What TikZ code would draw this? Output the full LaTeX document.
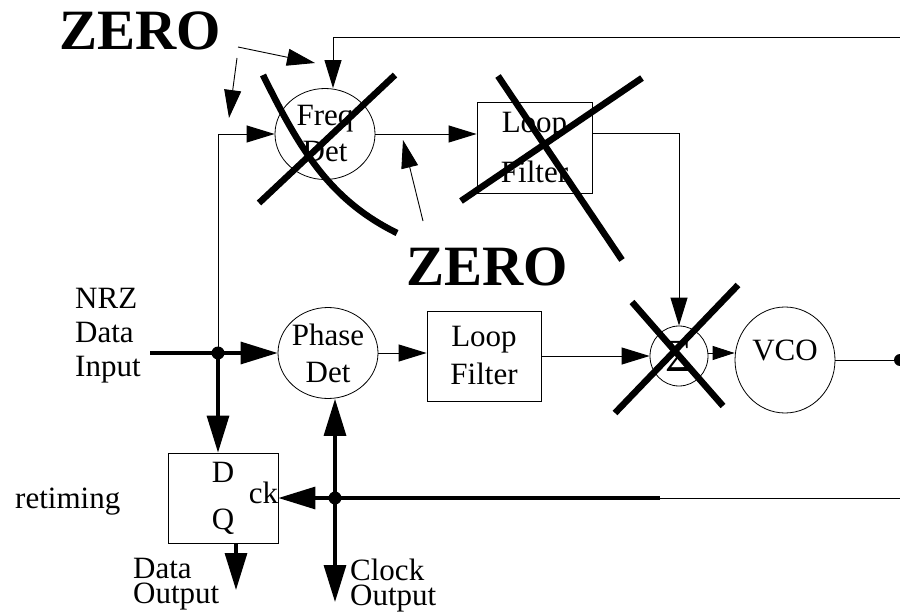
\documentclass[tikz,border=0pt]{standalone}
\usepackage{fontspec}
\setmainfont{Liberation Serif}
\usetikzlibrary{arrows.meta,shapes.geometric}

\begin{document}
\begin{tikzpicture}[
    x=1pt, y=-1pt,
    >={Triangle[length=28pt, width=17pt]},
    txt/.style={font=\fontsize{31}{37}\selectfont, inner sep=0pt, align=left},
    det/.style={ellipse, draw, line width=0.8pt, font=\fontsize{31}{37}\selectfont, align=center, inner xsep=-10pt, inner ysep=0pt, minimum width=100pt, minimum height=91pt},
    block/.style={rectangle, draw, line width=0.8pt, font=\fontsize{31}{38}\selectfont, align=center, inner sep=0pt},
    zero/.style={font=\fontsize{57}{60}\selectfont\bfseries, inner sep=0pt},
    sig/.style={->, line width=0.9pt},
    bus/.style={-{Triangle[length=37pt, width=22pt]}, line width=3.2pt},
    cross/.style={line width=6.5pt}
]
\useasboundingbox (0,0) rectangle (900,615);

% Upper path: frequency loop
\node[det] (freq) at (325,134) {Freq\\[-1pt]Det};
\node[block, minimum width=115pt, minimum height=91pt] (lf1) at (534.5,147.5) {Loop\\[12pt]Filter};

% Middle path: phase loop
\node[det] (phase) at (328,353) {Phase\\Det};
\node[block, minimum width=114pt, minimum height=90pt] (lf2) at (484,356) {Loop\\Filter};
\node[ellipse, draw, line width=0.8pt, minimum width=58pt, minimum height=60pt, inner sep=0pt, font=\fontsize{46}{46}\selectfont] (sum) at (679,356) {Σ};
\node[ellipse, draw, line width=0.8pt, minimum width=100pt, minimum height=106pt, inner sep=0pt, font=\fontsize{31}{37}\selectfont] (vco) at (785,360) {\raisebox{10pt}[\height][\depth]{VCO}};

% Retiming flip-flop
\node[block, minimum width=110pt, minimum height=90pt] (ff) at (223,498) {D\\[9pt]Q};
\node[txt, anchor=base east] (ck) at ([yshift=-5pt]ff.east) {ck};

% Labels
\node[txt, anchor=west] (nrz) at (75,336) {NRZ\\[-3pt]Data\\[-3pt]Input};
\node[txt, anchor=base west] (retime) at (15,508) {retiming};
\node[txt, anchor=west, font=\fontsize{31}{25}\selectfont] (dlbl) at (133,584) {Data\\Output};
\node[txt, anchor=west, font=\fontsize{31}{25}\selectfont] (clbl) at (350,586) {Clock\\Output};
\node[zero, anchor=base] (zero1) at (140,50) {ZERO};
\node[zero, anchor=base] (zero2) at (487,285) {ZERO};

% Free ends
\coordinate (din) at (150,353);
\coordinate (j1) at (218,353);
\coordinate (fbR) at (900,37);
\coordinate (vout) at (900,360);
\coordinate (ckR) at (900,498);
\coordinate (ckM) at (660,498);
\coordinate (j2) at (335,498);
\coordinate (cko) at (335,602);
\coordinate (dq) at (236,590);
\coordinate (za1) at (238,47);
\coordinate (zb1) at (315,63);
\coordinate (za2) at (237,58);
\coordinate (zb2) at (229,118);
\coordinate (za3) at (423,221);
\coordinate (zb3) at (403,140);

% === Arrows ===

% Data input
\draw[bus] (din) -- (j1) -- (phase.west);
\draw[bus] (j1) -- (j1 |- ff.north);
\draw[sig] (j1) |- (freq.west);

% Frequency loop
\draw[sig] (fbR) -| ([xshift=8pt]freq.north);
\draw[sig] (freq.east) -- (freq.east -| lf1.west);
\draw[sig] ([yshift=14pt]lf1.east) -| (sum.north);

% Phase loop
\draw[sig] (phase.east) -- (phase.east -| lf2.west);
\draw[sig] (lf2.east) -- (sum.west);
\draw[-{Triangle[length=22pt, width=14pt]}, line width=0.9pt] ([yshift=3pt]sum.east) -- ([yshift=3pt]sum.east -| vco.west);
\draw[line width=0.9pt] (vco.east) -- (vout);

% Clock distribution
\draw[line width=0.9pt] (ckR) -- (ckM);
\draw[bus] (ckM) -- (ff.east);
\draw[bus] (j2) -- (j2 |- phase.south);
\draw[bus] (j2) -- (cko);
\draw[bus] (dq |- ff.south) -- (dq);

% Junctions
\fill (j1) circle (6.5pt);
\fill (j2) circle (6.5pt);
\fill (vout) circle (6pt);

% ZERO pointers
\draw[sig] (za1) -- (zb1);
\draw[sig] (za2) -- (zb2);
\draw[sig] (za3) -- (zb3);

% Crossed-out blocks
\draw[cross] (263,75) .. controls (300,150) and (330,200) .. (397,233);
\draw[cross] (395,75) -- (259,203);
\draw[cross] (498,76) -- (622,260);
\draw[cross] (642,78) -- (461,201);
\draw[cross] (632,302) -- (723,406);
\draw[cross] (738,285) -- (615,413);

\end{tikzpicture}
\end{document}
